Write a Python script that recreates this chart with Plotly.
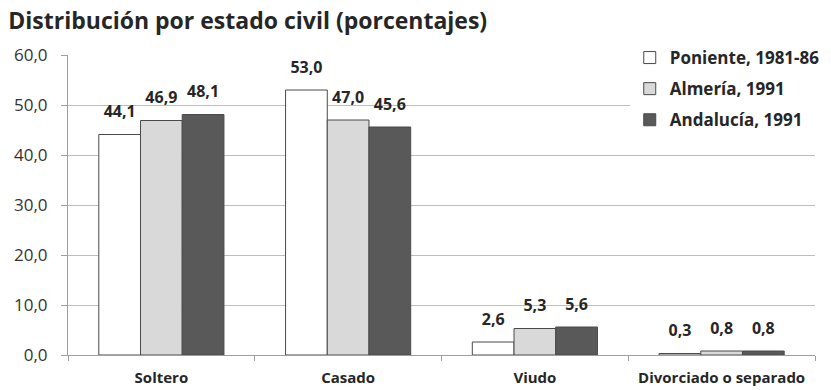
import plotly.graph_objects as go

categories = ["Soltero", "Casado", "Viudo", "Divorciado o separado"]
series_names = ["Poniente, 1981-86", "Almería, 1991", "Andalucía, 1991"]
poniente = [44.1, 53.0, 2.6, 0.3]
almeria = [46.9, 47.0, 5.3, 0.8]
andalucia = [48.1, 45.6, 5.6, 0.8]
y_ticks = [0, 10, 20, 30, 40, 50, 60]

colors = ["#ffffff", "#d9d9d9", "#595959"]
FONT = "Open Sans"
GAP = 0.33

fig = go.Figure()
for name, vals, col in zip(series_names, [poniente, almeria, andalucia], colors):
    fig.add_trace(go.Bar(
        x=categories, y=vals, name=name, legendgroup=name,
        marker=dict(color=col, line=dict(color="#4a4a4a", width=1)),
    ))
# value labels, grouped the same way as the bars; the invisible marker
# only sets how far above the bar top the text sits
for name, vals in zip(series_names, [poniente, almeria, andalucia]):
    fig.add_trace(go.Scatter(
        x=categories, y=vals, mode="markers+text", showlegend=False,
        legendgroup=name,
        text=[f"{v:.1f}".replace(".", ",") for v in vals],
        textposition="top center",
        marker=dict(size=20, color="rgba(0,0,0,0)"),
        textfont=dict(family=FONT, size=16, color="#262626", weight="bold"),
        cliponaxis=False, hoverinfo="skip",
    ))

fig.update_layout(
    width=831, height=390,
    margin=dict(l=68, r=16, t=55, b=35, autoexpand=False),
    paper_bgcolor="white", plot_bgcolor="white",
    separators=",.",
    barmode="group", bargap=GAP, bargroupgap=0,
    scattermode="group", scattergap=GAP,
    font=dict(family=FONT, color="#262626"),
    title=dict(text="Distribución por estado civil (porcentajes)",
               x=0.01, xanchor="left", y=0.968, yanchor="top",
               font=dict(family=FONT, size=23, color="#262626", weight="bold")),
    legend=dict(x=0.752, y=1.05, xanchor="left", yanchor="top",
                bgcolor="white",
                font=dict(family=FONT, size=17, color="#262626", weight="bold"),
                traceorder="grouped", tracegroupgap=6),
    showlegend=True,
)
fig.update_yaxes(
    range=[0, 60], tickvals=y_ticks, tickformat=".1f",
    showgrid=True, gridcolor="#bdbdbd", gridwidth=1,
    showline=True, linecolor="#9e9e9e", linewidth=1,
    ticks="outside", ticklen=6, tickcolor="#9e9e9e",
    ticklabelstandoff=10, automargin=False,
    tickfont=dict(family=FONT, size=17, color="#333333"),
    zeroline=False,
)
fig.update_xaxes(
    showline=True, linecolor="#9e9e9e", linewidth=1,
    ticks="outside", ticklen=5, tickcolor="#9e9e9e", tickson="boundaries",
    ticklabelstandoff=9, tickangle=0, automargin=False,
    tickfont=dict(family=FONT, size=15, color="#262626", weight="bold"),
)

fig.write_html("out.html")
